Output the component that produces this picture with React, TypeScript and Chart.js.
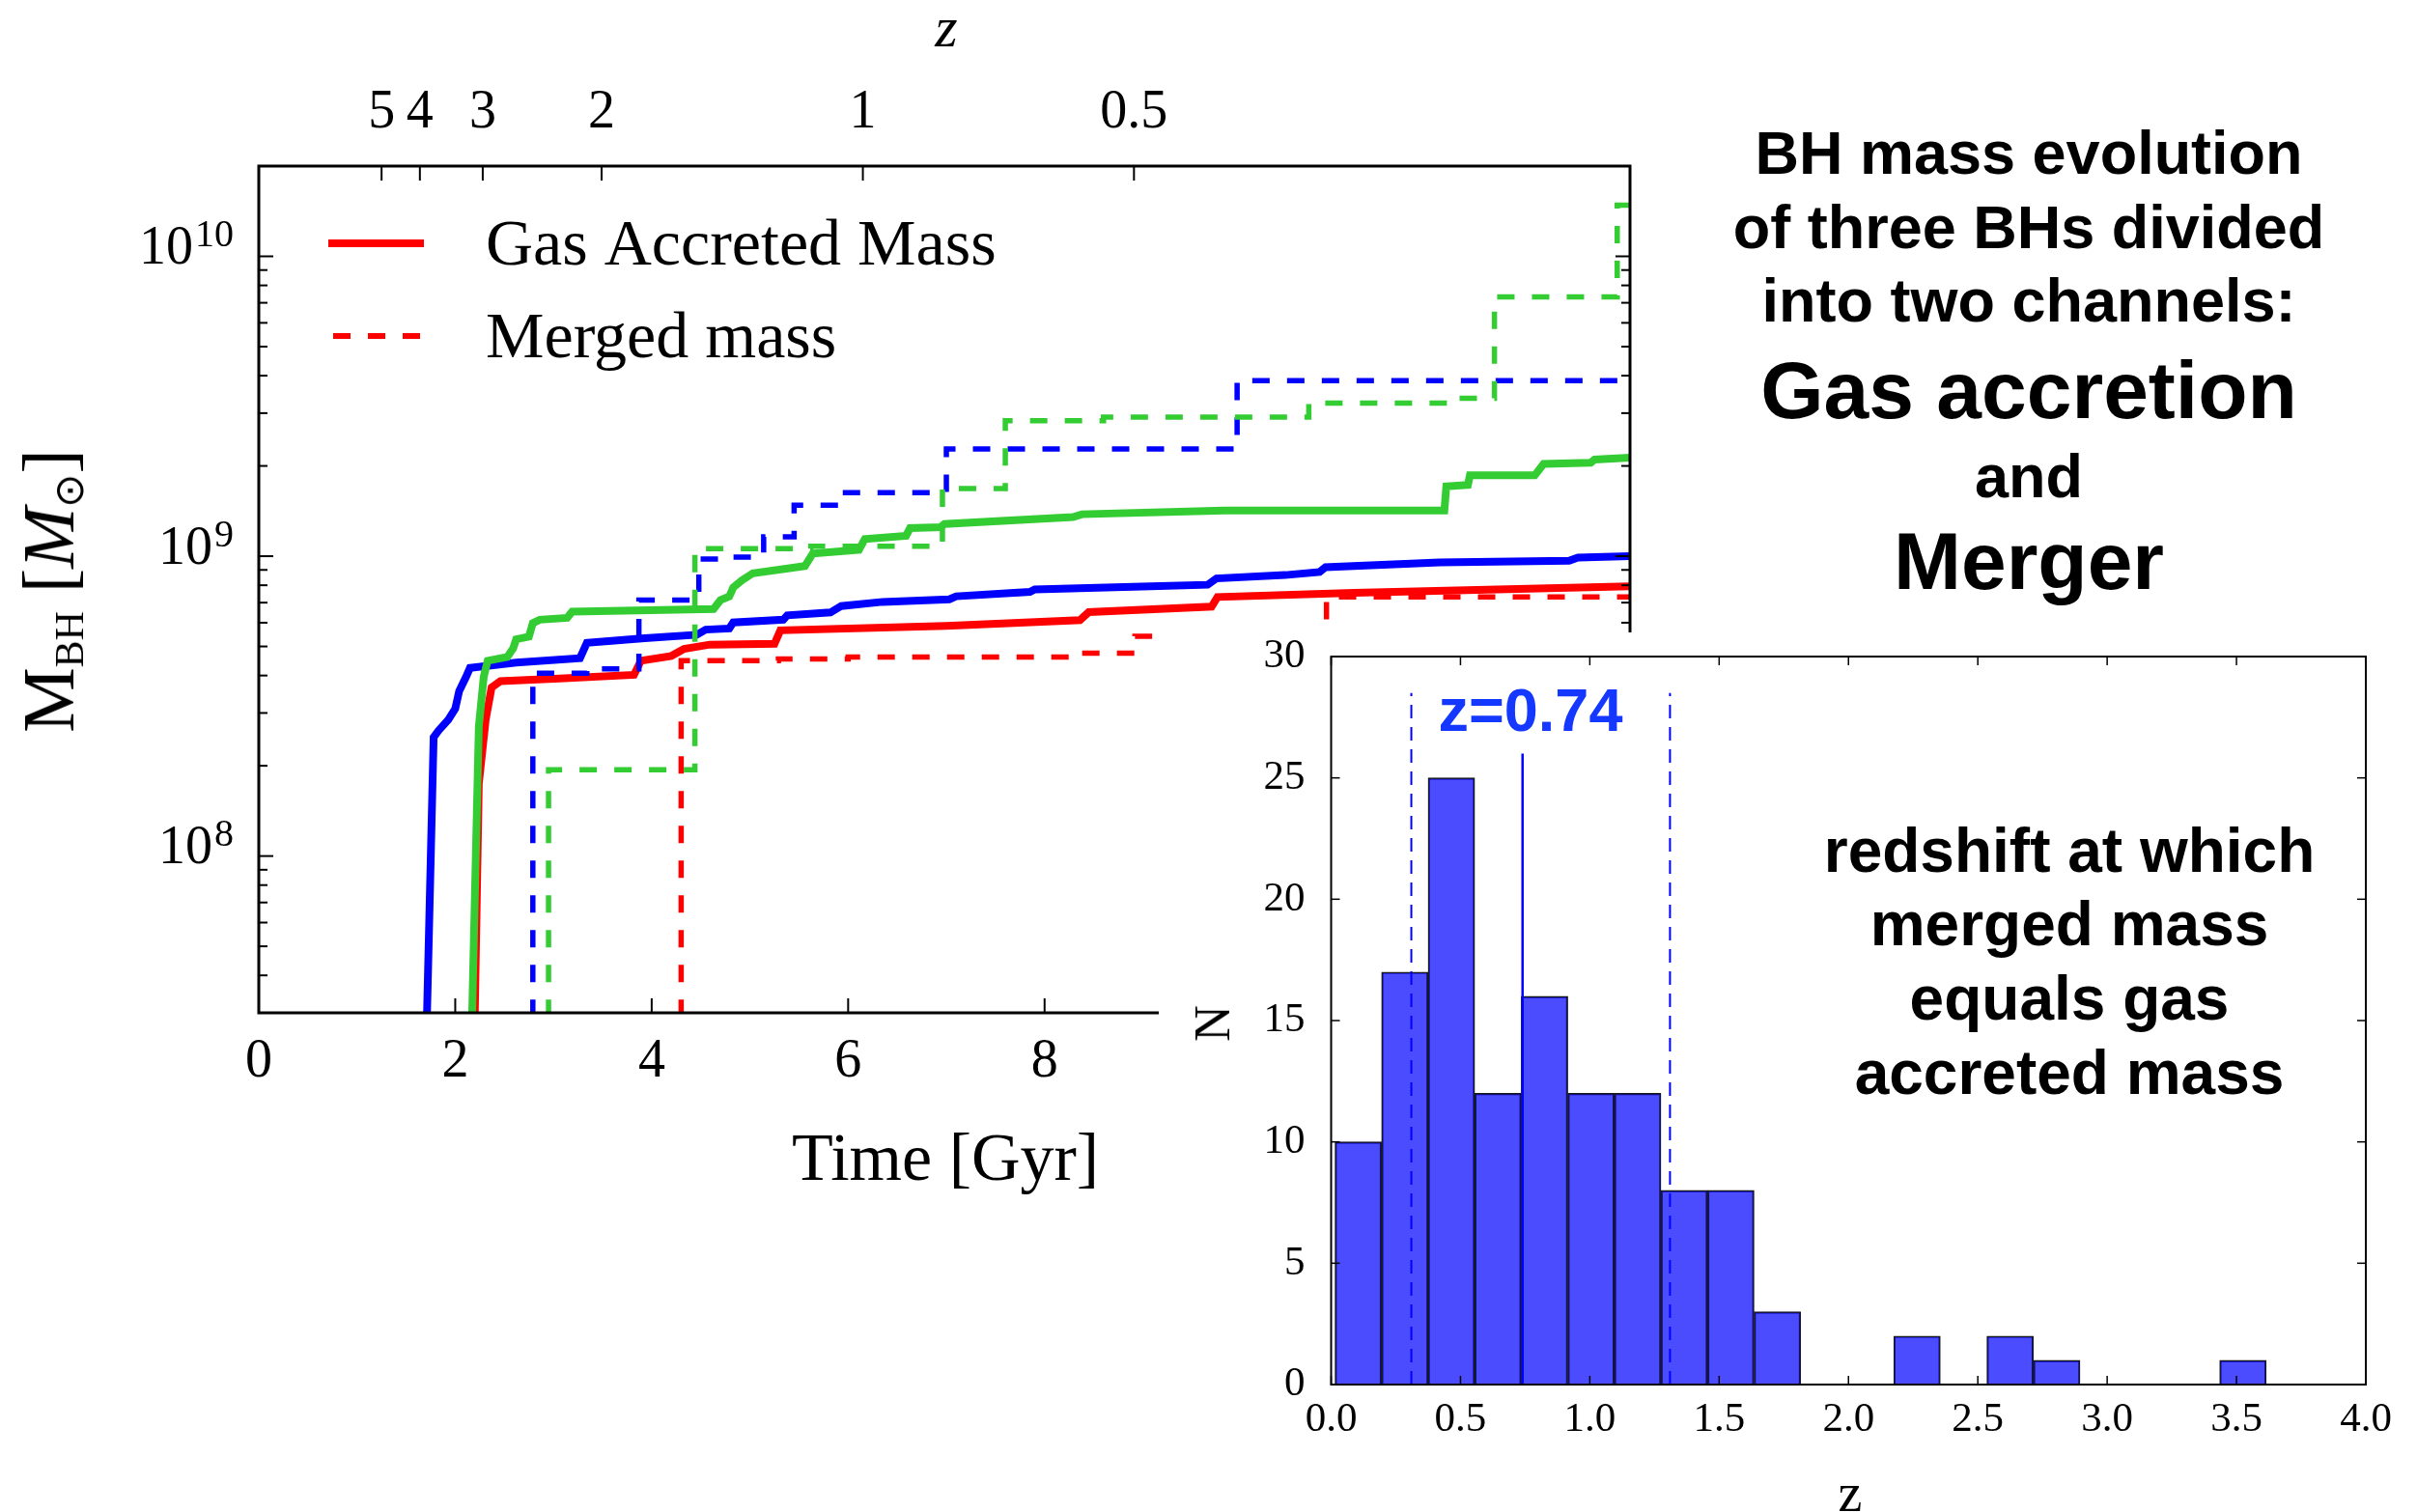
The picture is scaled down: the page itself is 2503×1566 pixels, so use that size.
import React, { useEffect, useRef } from 'react';
import { Chart, registerables } from 'chart.js';

Chart.register(...registerables);

const SERIF = '"Liberation Serif", "Times New Roman", serif';
const SANS = '"Liberation Sans", Arial, Helvetica, sans-serif';

const RED = '#ff0000';
const BLUE = '#0000ff';
const GREEN = '#33cc33';

// ---------------- Main panel: axes ----------------
const timeMin = 0;
const timeMax = 13.96;
const massMin = 3e7;
const massMax = 2e10;
const timeTicks = [0, 2, 4, 6, 8, 10, 12];
const zTickLabels = ['5', '4', '3', '2', '1', '0.5'];
const zTickTimes = [1.25, 1.64, 2.28, 3.49, 6.15, 8.91];
const massMajorTicks = [1e8, 1e9, 1e10];
const legendLabels = ['Gas Accreted Mass', 'Merged mass'];

// ---------------- Main panel: series (time [Gyr], mass [Msun]) ----------------
const blueGasTime = [1.70, 1.78, 1.83, 1.93, 2.00, 2.04, 2.11, 2.15, 2.62, 3.27, 3.34, 3.93, 4.46, 4.55, 4.79, 4.83, 5.34, 5.38, 5.82, 5.93, 6.35, 7.03, 7.10, 7.85, 7.90, 9.08, 9.66, 9.75, 10.45, 10.80, 10.86, 12.02, 13.34, 13.43, 13.96];
const blueGasMass = [2e7, 2.49e8, 2.62e8, 2.85e8, 3.1e8, 3.55e8, 3.96e8, 4.24e8, 4.42e8, 4.57e8, 5.14e8, 5.33e8, 5.47e8, 5.69e8, 5.74e8, 6.01e8, 6.14e8, 6.35e8, 6.49e8, 6.82e8, 7.04e8, 7.18e8, 7.35e8, 7.6e8, 7.75e8, 7.93e8, 8.03e8, 8.43e8, 8.65e8, 8.86e8, 9.19e8, 9.54e8, 9.66e8, 9.9e8, 1.0e9];

const redGasTime = [2.19, 2.24, 2.31, 2.37, 2.46, 3.06, 3.82, 3.89, 4.20, 4.33, 4.59, 5.25, 5.31, 7.00, 8.36, 8.45, 9.70, 9.76, 11.15, 13.96];
const redGasMass = [2e7, 1.74e8, 2.85e8, 3.65e8, 3.83e8, 3.91e8, 4.02e8, 4.48e8, 4.65e8, 4.91e8, 5.07e8, 5.1e8, 5.66e8, 5.85e8, 6.12e8, 6.51e8, 6.79e8, 7.31e8, 7.55e8, 7.93e8];

const greenGasTime = [2.16, 2.24, 2.29, 2.33, 2.53, 2.59, 2.62, 2.75, 2.79, 2.86, 3.14, 3.19, 4.63, 4.70, 4.79, 4.83, 4.92, 5.03, 5.56, 5.64, 6.11, 6.17, 6.59, 6.63, 6.94, 6.98, 8.29, 8.38, 9.83, 12.07, 12.09, 12.31, 12.33, 12.99, 13.08, 13.56, 13.60, 13.96];
const greenGasMass = [2e7, 2.7e8, 3.96e8, 4.48e8, 4.61e8, 4.93e8, 5.28e8, 5.39e8, 5.98e8, 6.14e8, 6.23e8, 6.53e8, 6.67e8, 7.14e8, 7.34e8, 7.86e8, 8.31e8, 8.77e8, 9.27e8, 1.02e9, 1.05e9, 1.14e9, 1.17e9, 1.24e9, 1.25e9, 1.28e9, 1.35e9, 1.38e9, 1.42e9, 1.42e9, 1.71e9, 1.73e9, 1.86e9, 1.86e9, 2.03e9, 2.05e9, 2.1e9, 2.13e9];

const blueMergedTime = [2.79, 2.79, 3.34, 3.87, 4.48, 4.81, 5.14, 5.45, 5.93, 7.00, 9.96, 13.96];
const blueMergedMass = [1e7, 4.07e8, 4.21e8, 7.14e8, 9.79e8, 9.93e8, 1.16e9, 1.48e9, 1.63e9, 2.28e9, 3.85e9, 3.85e9];

const greenMergedTime = [2.95, 2.95, 4.44, 5.62, 6.96, 7.60, 8.60, 10.69, 12.12, 12.58, 13.83, 13.96];
const greenMergedMass = [1e7, 1.94e8, 1.06e9, 1.08e9, 1.68e9, 2.83e9, 2.91e9, 3.24e9, 3.36e9, 7.32e9, 1.48e10, 1.48e10];

const redMergedTime = [4.30, 4.30, 5.29, 6.00, 8.41, 8.92, 10.87, 13.96];
const redMergedMass = [1e7, 4.48e8, 4.54e8, 4.61e8, 4.75e8, 5.41e8, 7.31e8, 7.31e8];

// ---------------- Histogram panel ----------------
const histCounts = [10, 17, 25, 12, 16, 12, 12, 8, 8, 3, 0, 0, 2, 0, 2, 1, 0, 0, 0, 1];
const histBinStart = 0.015;
const histBinWidth = 0.18;
const histXTicks = [0, 0.5, 1, 1.5, 2, 2.5, 3, 3.5, 4];
const histYTicks = [0, 5, 10, 15, 20, 25, 30];
const zMedian = 0.74;
const zLow = 0.31;
const zHigh = 1.31;
const medianTop = 26;
const rangeTop = 28.5;

// ---------------- Layout ----------------
const MAIN_W = 1800;
const MAIN_H = 1300;
const MAIN_LEFT = 268;
const MAIN_TOP = 172;
const MAIN_RIGHT = 1688;
const MAIN_BOTTOM = 1049;

const HIST_LEFT = 1200;
const HIST_TOP = 655;
const HIST_W = 1303;
const HIST_H = 911;
const H_LEFT = 178.5;
const H_TOP = 25;
const H_RIGHT = 1250;
const H_BOTTOM = 779;

const xy = (t: number[], m: number[]) => t.map((v, i) => ({ x: v, y: m[i] }));

const mainDecor = {
  id: 'mainDecor',
  afterDatasetsDraw(chart: any) {
    const { ctx, chartArea: a } = chart;
    const x = chart.scales.x;
    const y = chart.scales.y;
    ctx.save();
    ctx.strokeStyle = '#000';
    ctx.lineWidth = 2;
    const seg = (x1: number, y1: number, x2: number, y2: number) => {
      ctx.beginPath();
      ctx.moveTo(x1, y1);
      ctx.lineTo(x2, y2);
      ctx.stroke();
    };
    for (const v of timeTicks) {
      const px = x.getPixelForValue(v);
      seg(px, a.bottom, px, a.bottom - 15);
    }
    for (const v of zTickTimes) {
      const px = x.getPixelForValue(v);
      seg(px, a.top, px, a.top + 15);
    }
    for (let d = 7; d <= 10; d++) {
      for (let m = 1; m <= 9; m++) {
        const v = m * Math.pow(10, d);
        if (v < massMin || v > massMax) continue;
        const py = y.getPixelForValue(v);
        const len = m === 1 ? 15 : 9;
        seg(a.left, py, a.left + len, py);
        seg(a.right, py, a.right - len, py);
      }
    }
    ctx.lineWidth = 3;
    ctx.strokeRect(a.left, a.top, a.right - a.left, a.bottom - a.top);

    // y tick labels with exponents
    ctx.fillStyle = '#000';
    ctx.textBaseline = 'middle';
    ctx.textAlign = 'right';
    for (const v of massMajorTicks) {
      const py = y.getPixelForValue(v);
      const exp = String(Math.round(Math.log10(v)));
      ctx.font = `40px ${SERIF}`;
      const ew = ctx.measureText(exp).width;
      ctx.fillText(exp, a.left - 26, py - 21);
      ctx.font = `56px ${SERIF}`;
      ctx.fillText('10', a.left - 26 - ew - 2, py - 7);
    }

    // legend
    ctx.strokeStyle = RED;
    ctx.lineWidth = 8;
    seg(340, 252, 439, 252);
    ctx.lineWidth = 6;
    ctx.setLineDash([18, 18]);
    seg(345, 348, 435, 348);
    ctx.setLineDash([]);
    ctx.textAlign = 'left';
    ctx.font = `68px ${SERIF}`;
    ctx.fillText(legendLabels[0], 503, 256);
    ctx.fillText(legendLabels[1], 503, 352);
    ctx.restore();
  },
};

function MainChart() {
  const ref = useRef<HTMLCanvasElement>(null);
  useEffect(() => {
    const solid = (data: any, color: string) => ({
      data, borderColor: color, borderWidth: 8, pointRadius: 0, fill: false, tension: 0, clip: 0,
    });
    const dashed = (data: any, color: string) => ({
      data, borderColor: color, borderWidth: 5.5, borderDash: [18, 18], pointRadius: 0, fill: false, stepped: true, clip: 0,
    });
    const chart = new Chart(ref.current as HTMLCanvasElement, {
      type: 'line',
      data: {
        datasets: [
          dashed(xy(greenMergedTime, greenMergedMass), GREEN),
          dashed(xy(blueMergedTime, blueMergedMass), BLUE),
          dashed(xy(redMergedTime, redMergedMass), RED),
          solid(xy(greenGasTime, greenGasMass), GREEN),
          solid(xy(redGasTime, redGasMass), RED),
          solid(xy(blueGasTime, blueGasMass), BLUE),
        ] as any,
      },
      options: {
        animation: false,
        responsive: false,
        events: [],
        layout: { padding: { top: 0, left: 0, bottom: 0, right: MAIN_W - MAIN_RIGHT } },
        plugins: { legend: { display: false }, tooltip: { enabled: false } },
        scales: {
          x: {
            type: 'linear', position: 'bottom', min: timeMin, max: timeMax,
            grid: { display: false }, border: { display: false },
            afterBuildTicks: (s: any) => { s.ticks = timeTicks.map((v) => ({ value: v })); },
            ticks: { padding: 10, color: '#000', font: { family: SERIF, size: 56 }, maxRotation: 0, autoSkip: false },
            afterFit: (s: any) => { s.height = MAIN_H - MAIN_BOTTOM; },
          },
          xTop: {
            type: 'linear', position: 'top', axis: 'x', min: timeMin, max: timeMax,
            grid: { display: false }, border: { display: false },
            afterBuildTicks: (s: any) => { s.ticks = zTickTimes.map((v) => ({ value: v })); },
            ticks: {
              padding: 13, color: '#000', font: { family: SERIF, size: 56 }, maxRotation: 0, autoSkip: false,
              callback: (_v: any, i: number) => zTickLabels[i],
            },
            afterFit: (s: any) => { s.height = MAIN_TOP; },
          },
          y: {
            type: 'logarithmic', position: 'left', min: massMin, max: massMax,
            grid: { display: false }, border: { display: false },
            ticks: { display: false },
            afterFit: (s: any) => { s.width = MAIN_LEFT; s.paddingTop = 0; s.paddingBottom = 0; },
          },
        } as any,
      },
      plugins: [mainDecor],
    });
    return () => chart.destroy();
  }, []);
  return (
    <canvas
      ref={ref}
      width={MAIN_W}
      height={MAIN_H}
      style={{ position: 'absolute', left: 0, top: 0, width: MAIN_W, height: MAIN_H }}
    />
  );
}

const histDecor = {
  id: 'histDecor',
  afterDatasetsDraw(chart: any) {
    const { ctx, chartArea: a } = chart;
    const x = chart.scales.x;
    const y = chart.scales.y;
    ctx.save();
    ctx.strokeStyle = '#000';
    ctx.lineWidth = 1.5;
    const seg = (x1: number, y1: number, x2: number, y2: number) => {
      ctx.beginPath();
      ctx.moveTo(x1, y1);
      ctx.lineTo(x2, y2);
      ctx.stroke();
    };
    for (const v of histXTicks) {
      const px = x.getPixelForValue(v);
      seg(px, a.bottom, px, a.bottom - 9);
      seg(px, a.top, px, a.top + 9);
    }
    for (const v of histYTicks) {
      const py = y.getPixelForValue(v);
      seg(a.left, py, a.left + 9, py);
      seg(a.right, py, a.right - 9, py);
    }
    ctx.lineWidth = 2;
    ctx.strokeRect(a.left, a.top, a.right - a.left, a.bottom - a.top);
    ctx.restore();
  },
};

function HistChart() {
  const ref = useRef<HTMLCanvasElement>(null);
  useEffect(() => {
    const bars = histCounts.map((c, i) => ({ x: histBinStart + (i + 0.5) * histBinWidth, y: c }));
    const chart = new Chart(ref.current as HTMLCanvasElement, {
      type: 'bar',
      data: {
        datasets: [
          {
            type: 'line', data: [{ x: zMedian, y: 0 }, { x: zMedian, y: medianTop }],
            borderColor: BLUE, borderWidth: 2.5, pointRadius: 0, fill: false,
          },
          {
            type: 'line', data: [{ x: zLow, y: 0 }, { x: zLow, y: rangeTop }],
            borderColor: BLUE, borderWidth: 2, borderDash: [14, 9], pointRadius: 0, fill: false,
          },
          {
            type: 'line', data: [{ x: zHigh, y: 0 }, { x: zHigh, y: rangeTop }],
            borderColor: BLUE, borderWidth: 2, borderDash: [14, 9], pointRadius: 0, fill: false,
          },
          {
            type: 'bar', data: bars,
            backgroundColor: 'rgba(0,0,255,0.7)', borderColor: '#1a1a1a', borderWidth: 1.5,
            barPercentage: 1, categoryPercentage: 1, borderSkipped: 'start',
          },
        ] as any,
      },
      options: {
        animation: false,
        responsive: false,
        events: [],
        layout: { padding: { top: H_TOP, right: HIST_W - H_RIGHT, left: 0, bottom: 0 } },
        plugins: { legend: { display: false }, tooltip: { enabled: false } },
        scales: {
          x: {
            type: 'linear', min: 0, max: 4, offset: false,
            grid: { display: false }, border: { display: false },
            afterBuildTicks: (s: any) => { s.ticks = histXTicks.map((v) => ({ value: v })); },
            ticks: {
              padding: 3, color: '#000', font: { family: SERIF, size: 43 }, maxRotation: 0, autoSkip: false,
              callback: (v: any) => Number(v).toFixed(1),
            },
            afterFit: (s: any) => { s.height = HIST_H - H_BOTTOM; s.paddingLeft = 0; s.paddingRight = 0; },
          },
          y: {
            type: 'linear', min: 0, max: 30,
            grid: { display: false }, border: { display: false },
            afterBuildTicks: (s: any) => { s.ticks = histYTicks.map((v) => ({ value: v })); },
            ticks: { padding: 19, color: '#000', font: { family: SERIF, size: 43 }, autoSkip: false },
            afterFit: (s: any) => { s.width = H_LEFT; s.paddingTop = 0; s.paddingBottom = 0; },
          },
        } as any,
      },
      plugins: [histDecor],
    });
    return () => chart.destroy();
  }, []);
  return (
    <canvas
      ref={ref}
      width={HIST_W}
      height={HIST_H}
      style={{ position: 'absolute', left: HIST_LEFT, top: HIST_TOP, width: HIST_W, height: HIST_H, background: '#fff' }}
    />
  );
}

const Label = (p: { x: number; y: number; size: number; text?: any; bold?: boolean; family?: string; color?: string; rotate?: boolean; italic?: boolean; children?: any }) => (
  <div
    style={{
      position: 'absolute',
      left: p.x,
      top: p.y,
      transform: `translate(-50%, -50%)${p.rotate ? ' rotate(-90deg)' : ''}`,
      fontFamily: p.family || SERIF,
      fontSize: p.size,
      fontWeight: p.bold ? 700 : 400,
      fontStyle: p.italic ? 'italic' : 'normal',
      color: p.color || '#000',
      lineHeight: 1,
      whiteSpace: 'nowrap',
    }}
  >
    {p.children ?? p.text}
  </div>
);

const titleLines = [
  { text: 'BH mass evolution', y: 158, size: 63 },
  { text: 'of three BHs divided', y: 235, size: 63 },
  { text: 'into two channels:', y: 311, size: 63 },
  { text: 'Gas accretion', y: 404, size: 84 },
  { text: 'and', y: 493, size: 63 },
  { text: 'Merger', y: 581, size: 84 },
];

const histNoteLines = [
  { text: 'redshift at which', y: 881 },
  { text: 'merged mass', y: 957 },
  { text: 'equals gas', y: 1034 },
  { text: 'accreted mass', y: 1111 },
];

const subStyle: React.CSSProperties = { fontSize: '0.55em', position: 'relative', top: '0.25em' };

export default function App() {
  return (
    <div style={{ position: 'fixed', left: 0, top: 0, width: 2503, height: 1566, background: '#fff', overflow: 'hidden' }}>
      <MainChart />
      <HistChart />
      {/* main panel axis titles */}
      <Label x={980} y={28} size={60} italic text="z" />
      <Label x={979} y={1199} size={70} text="Time [Gyr]" />
      <Label x={50} y={612} size={76} rotate>
        M<span style={subStyle}>BH</span>{' ['}<i>M</i><span style={subStyle}>⊙</span>]
      </Label>
      {/* histogram axis titles and notes */}
      <Label x={1256} y={1060} size={52} rotate text="N" />
      <Label x={1916} y={1546} size={56} text="z" />
      <Label x={1585} y={735} size={63} bold family={SANS} color="#1438ff" text="z=0.74" />
      {histNoteLines.map((l) => (
        <Label key={l.text} x={2143} y={l.y} size={64} bold family={SANS} text={l.text} />
      ))}
      {titleLines.map((l) => (
        <Label key={l.text} x={2101} y={l.y} size={l.size} bold family={SANS} text={l.text} />
      ))}
    </div>
  );
}
